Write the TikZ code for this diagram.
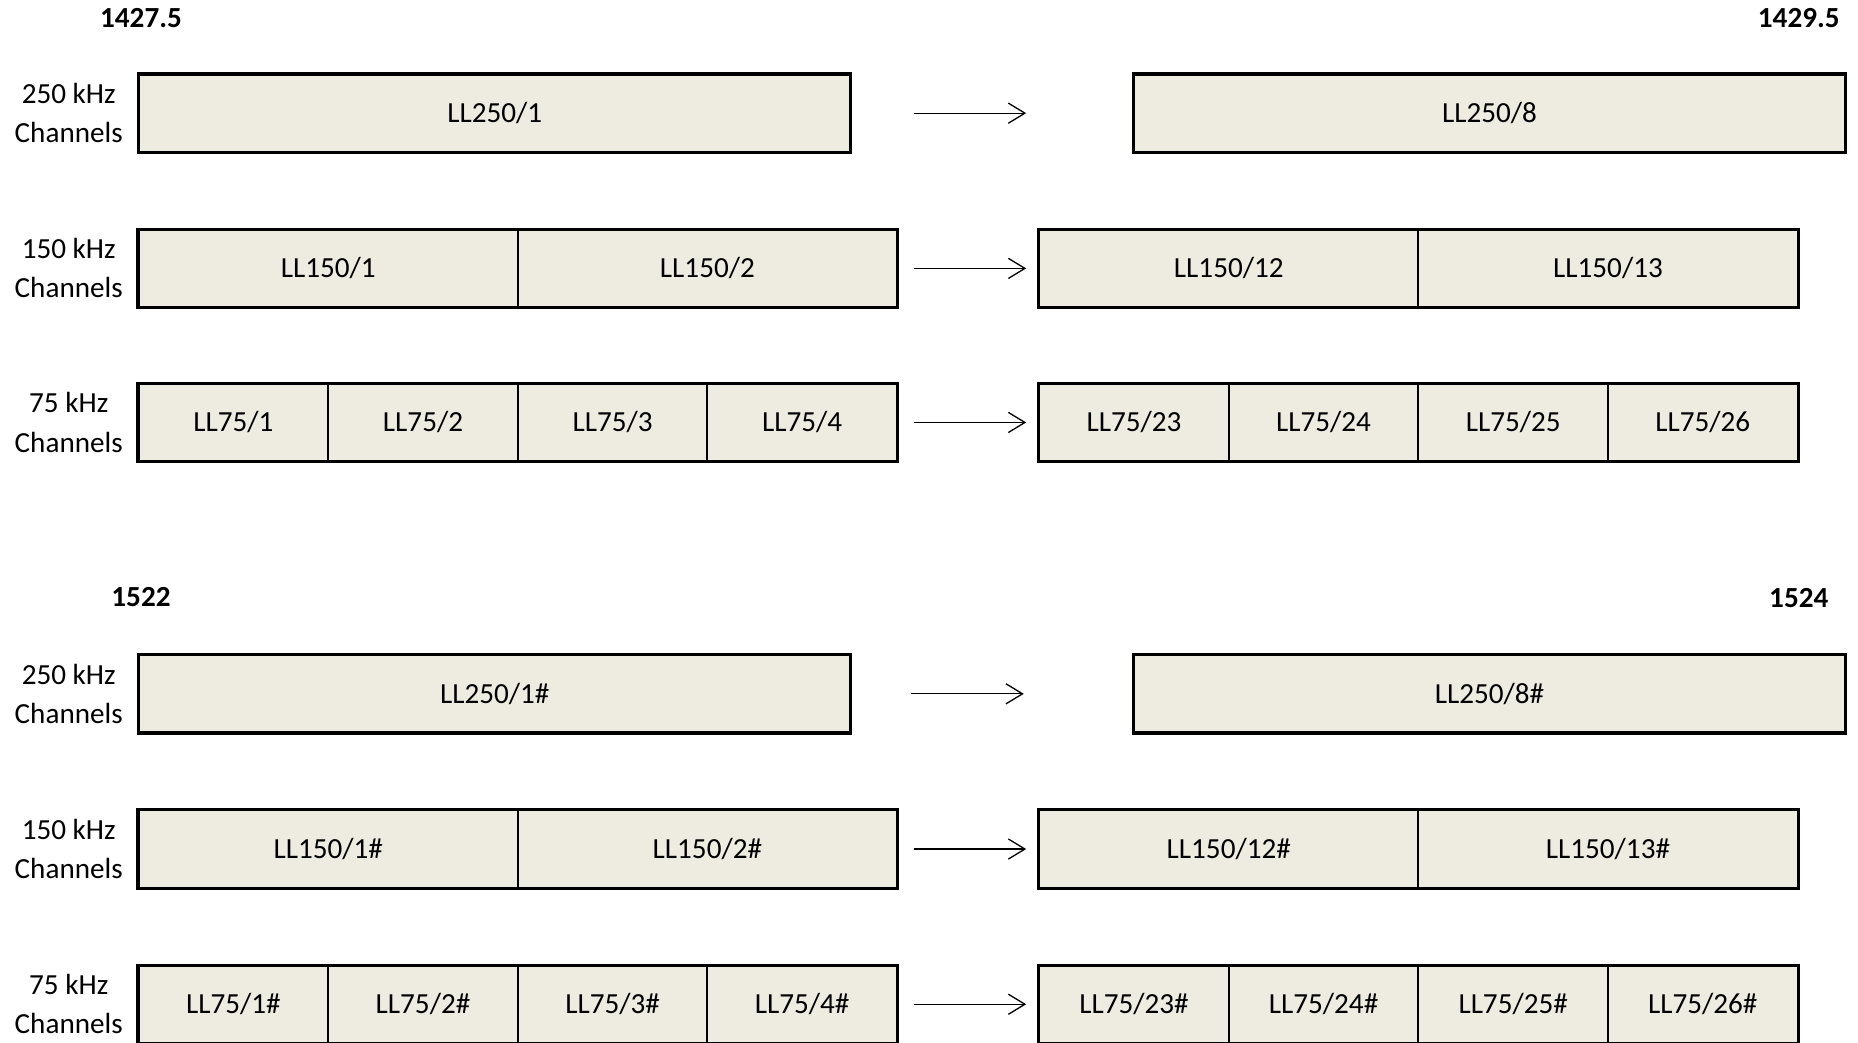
\documentclass[tikz,border=0pt]{standalone}
\usepackage{fontspec}
\setmainfont{Carlito}
\usetikzlibrary{arrows.meta}
\definecolor{cellfill}{HTML}{EEECE1}
\begin{document}
\begin{tikzpicture}[x=0.5pt,y=-0.5pt,
 cell/.style={draw=black,line width=0.8pt,fill=cellfill,minimum height=32.5pt,inner sep=0pt,font=\fontsize{12.3}{14}\selectfont},
 wide/.style={cell,minimum width=300pt},
 mid/.style={cell,minimum width=160pt},
 narrow/.style={cell,minimum width=80pt},
 outer/.style={draw=black,line width=1.1pt},
 rowlabel/.style={align=center,font=\fontsize{12.3}{16.5}\selectfont,inner sep=0pt},
 freq/.style={font=\fontsize{12.3}{14}\selectfont\bfseries,inner sep=0pt},
 arr/.style={-{Straight Barb[length=7pt,width=8.5pt]},line width=0.55pt}
]
\useasboundingbox (0,0) rectangle (1568,880);

% frequency labels
\node[freq] (f1) at (119,15) {1427.5};
\node[freq] (f2) at (1518,15) {1429.5};
\node[freq] (f3) at (119,504) {1522};
\node[freq] (f4) at (1518,505) {1524};

% ---------- upper block ----------
\node[rowlabel] (l1) at (58,95.5) {250 kHz\\Channels};
\node[rowlabel] (l2) at (58,226.5) {150 kHz\\Channels};
\node[rowlabel] (l3) at (58,356.5) {75 kHz\\Channels};

\node[wide] (a1) at (417.5,95.5) {LL250/1};
\node[wide] (a8) at (1257,95.5) {LL250/8};
\draw[outer] (a1.north west) rectangle (a1.south east);
\draw[outer] (a8.north west) rectangle (a8.south east);

\node[mid] (b1) at (277,226.5) {LL150/1};
\node[mid] (b2) at (597,226.5) {LL150/2};
\node[mid] (b12) at (1037,226.5) {LL150/12};
\node[mid] (b13) at (1357,226.5) {LL150/13};
\draw[outer] (b1.north west) rectangle (b2.south east);
\draw[outer] (b12.north west) rectangle (b13.south east);

\node[narrow] (c1) at (197,356.5) {LL75/1};
\node[narrow] (c2) at (357,356.5) {LL75/2};
\node[narrow] (c3) at (517,356.5) {LL75/3};
\node[narrow] (c4) at (677,356.5) {LL75/4};
\node[narrow] (c23) at (957,356.5) {LL75/23};
\node[narrow] (c24) at (1117,356.5) {LL75/24};
\node[narrow] (c25) at (1277,356.5) {LL75/25};
\node[narrow] (c26) at (1437,356.5) {LL75/26};
\draw[outer] (c1.north west) rectangle (c4.south east);
\draw[outer] (c23.north west) rectangle (c26.south east);

\coordinate (s1) at (771,95.5);  \coordinate (e1) at (866,95.5);
\coordinate (s2) at (771,226.5); \coordinate (e2) at (866,226.5);
\coordinate (s3) at (771,356.5); \coordinate (e3) at (866,356.5);
\draw[arr] (s1) -- (e1);
\draw[arr] (s2) -- (e2);
\draw[arr] (s3) -- (e3);

% ---------- lower block ----------
\node[rowlabel] (l4) at (58,585.5) {250 kHz\\Channels};
\node[rowlabel] (l5) at (58,716.5) {150 kHz\\Channels};
\node[rowlabel] (l6) at (58,847.5) {75 kHz\\Channels};

\node[wide] (d1) at (417.5,585.5) {LL250/1\#};
\node[wide] (d8) at (1257,585.5) {LL250/8\#};
\draw[outer] (d1.north west) rectangle (d1.south east);
\draw[outer] (d8.north west) rectangle (d8.south east);

\node[mid] (g1) at (277,716.5) {LL150/1\#};
\node[mid] (g2) at (597,716.5) {LL150/2\#};
\node[mid] (g12) at (1037,716.5) {LL150/12\#};
\node[mid] (g13) at (1357,716.5) {LL150/13\#};
\draw[outer] (g1.north west) rectangle (g2.south east);
\draw[outer] (g12.north west) rectangle (g13.south east);

\node[narrow] (h1) at (197,847.5) {LL75/1\#};
\node[narrow] (h2) at (357,847.5) {LL75/2\#};
\node[narrow] (h3) at (517,847.5) {LL75/3\#};
\node[narrow] (h4) at (677,847.5) {LL75/4\#};
\node[narrow] (h23) at (957,847.5) {LL75/23\#};
\node[narrow] (h24) at (1117,847.5) {LL75/24\#};
\node[narrow] (h25) at (1277,847.5) {LL75/25\#};
\node[narrow] (h26) at (1437,847.5) {LL75/26\#};
\draw[outer] (h1.north west) rectangle (h4.south east);
\draw[outer] (h23.north west) rectangle (h26.south east);

\coordinate (s4) at (769,585.5); \coordinate (e4) at (864,585.5);
\coordinate (s5) at (771,716.5); \coordinate (e5) at (866,716.5);
\coordinate (s6) at (771,847.5); \coordinate (e6) at (866,847.5);
\draw[arr] (s4) -- (e4);
\draw[arr] (s5) -- (e5);
\draw[arr] (s6) -- (e6);
\end{tikzpicture}
\end{document}
